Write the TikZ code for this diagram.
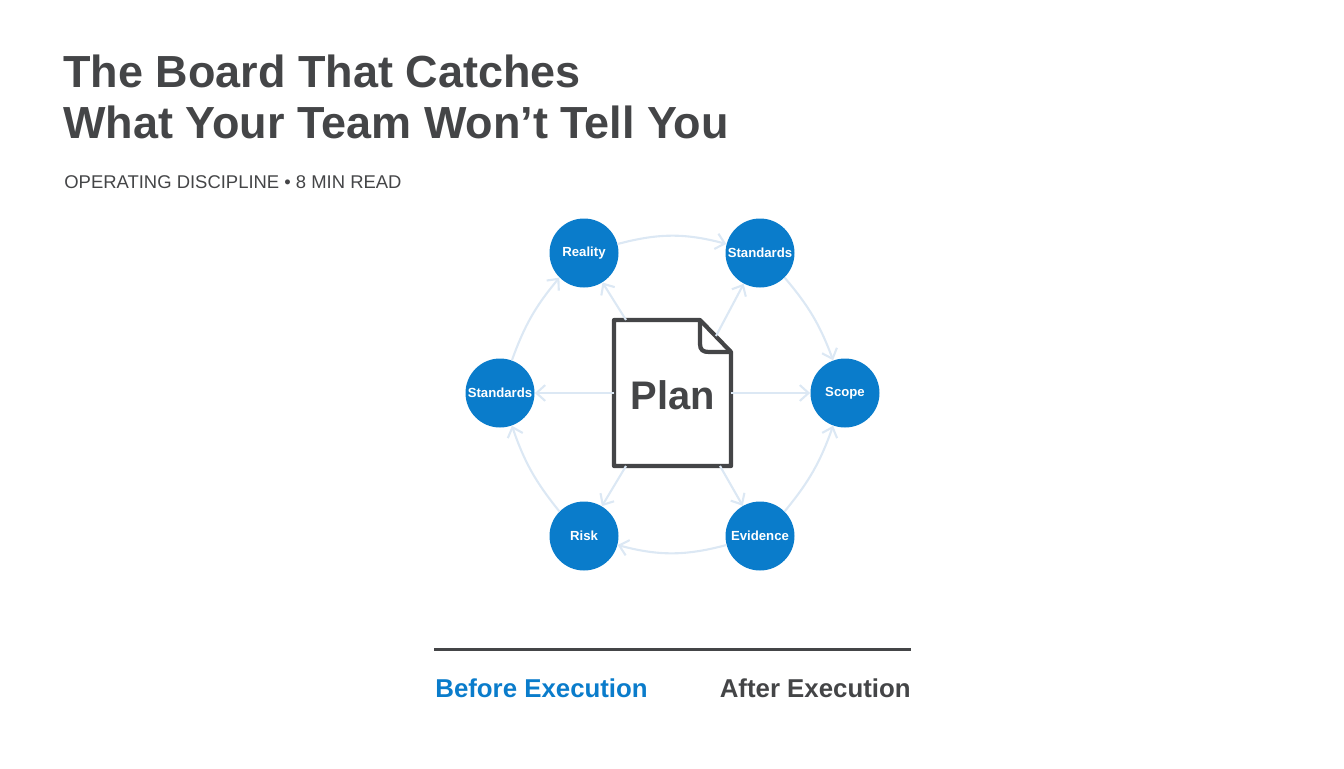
\documentclass[tikz,border=0pt]{standalone}
\usepackage{fontspec}
\setmainfont{Liberation Sans}
\usetikzlibrary{arrows.meta}
\definecolor{ink}{HTML}{444547}
\definecolor{blu}{HTML}{0A7CCB}
\definecolor{pale}{HTML}{DCE8F4}

\begin{document}
\begin{tikzpicture}[x=0.02cm,y=-0.02cm,
	stage/.style={circle, fill=blu, minimum size=1.38cm, inner sep=0pt, text=white, font=\fontsize{7.5}{9}\selectfont\bfseries},
	link/.style={pale, line width=1.2pt, -{Straight Barb[length=5pt,width=9pt]}}]

	%canvas
	\useasboundingbox (0,0) rectangle (1344,768);

	%title block
	\node[anchor=base west, ink, align=left, inner sep=0pt, font=\fontsize{25.6}{29}\selectfont\bfseries] (title) at (63,138) {The Board That Catches\\What Your Team Won’t Tell You};
	\node[anchor=base west, ink, inner sep=0pt, font=\fontsize{10.5}{12}\selectfont] (sub) at (64,188) {OPERATING DISCIPLINE • 8 MIN READ};

	%ring of stages
	\node[stage] (real) at (584,253) {Reality};
	\node[stage] (stdr) at (760,253) {Standards};
	\node[stage] (scope) at (845,393) {Scope};
	\node[stage] (evid) at (760,536) {Evidence};
	\node[stage] (risk) at (584,536) {Risk};
	\node[stage] (stdl) at (500,393) {Standards};

	%the plan sheet
	\draw[ink, line width=2.4pt, line join=round, fill=white] (614,320) -- (700,320) -- (731,352) -- (731,466) -- (614,466) -- cycle;
	\draw[ink, line width=2.4pt, line join=round] (700,320) -- (700,344) .. controls (700,350) and (703,352) .. (709,352) -- (731,352);
	\node[ink, font=\fontsize{22.7}{24}\selectfont\bfseries] (plan) at (673,395) {Plan};

	%cycle
	\draw[link] (real.15) to[bend left=15] (stdr.165);
	\draw[link] (stdr.-45) to[bend left=10] (scope.110);
	\draw[link] (evid.45) to[bend right=10] (scope.-110);
	\draw[link] (evid.-165) to[bend left=15] (risk.-15);
	\draw[link] (risk.135) to[bend left=10] (stdl.-70);
	\draw[link] (stdl.70) to[bend left=10] (real.-135);

	%spokes
	\draw[link] (626,320) -- (real);
	\draw[link] (716,336) -- (stdr);
	\draw[link] (731,393) -- (scope);
	\draw[link] (720,466) -- (evid);
	\draw[link] (626,466) -- (risk);
	\draw[link] (614,393) -- (stdl);

	%timeline
	\coordinate (tl) at (434,649);
	\coordinate (tr) at (911,649);
	\draw[ink, line width=1.7pt] (tl) -- (tr);
	\node[anchor=base west, blu, font=\fontsize{14.7}{16}\selectfont\bfseries, inner sep=0pt] (before) at (435,697) {Before Execution};
	\node[anchor=base east, ink, font=\fontsize{14.7}{16}\selectfont\bfseries, inner sep=0pt] (after) at (911,697) {After Execution};

\end{tikzpicture}
\end{document}
